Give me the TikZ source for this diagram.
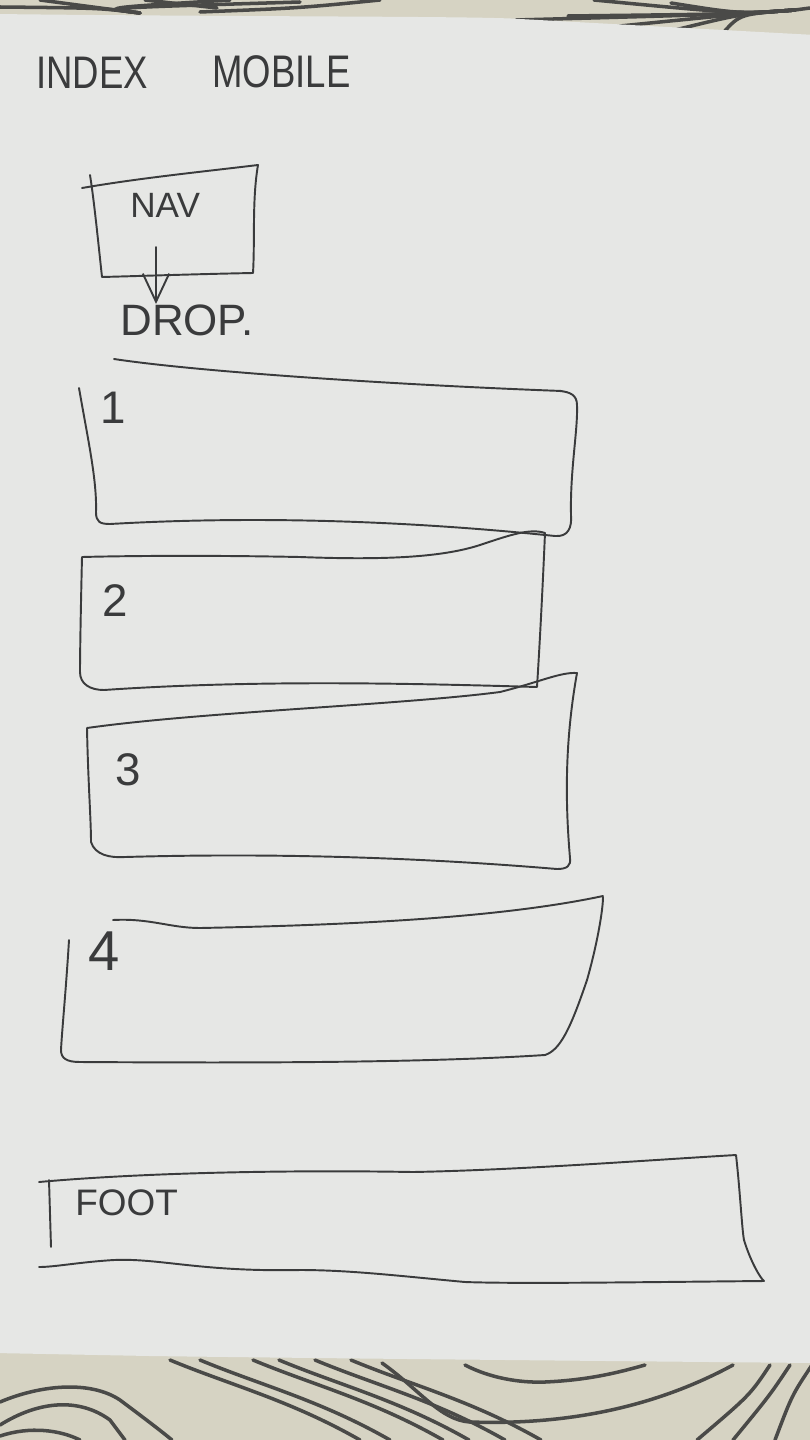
\documentclass[tikz,border=0pt]{standalone}
\usepackage{fontspec}
\setmainfont{Liberation Sans}
\newfontfamily\titlefont[FakeStretch=0.8]{Liberation Sans}
\usetikzlibrary{arrows.meta,positioning}
\definecolor{paper}{HTML}{E6E7E5}
\definecolor{cloth}{HTML}{D6D3C3}
\definecolor{weave}{HTML}{4A4A48}
\definecolor{ink}{HTML}{3A3B3C}
\tikzset{
  pen/.style={draw=ink,line width=1.1pt,line cap=round,line join=round},
  thread/.style={draw=weave,line width=2pt,line cap=round},
  scrawl/.style={text=ink,inner sep=0pt,anchor=base west},
  digit/.style={scrawl,font=\fontsize{26}{26}\selectfont}
}
\begin{document}
\begin{tikzpicture}[x=0.02cm,y=-0.02cm]
\useasboundingbox (0,0) rectangle (810,1440);
\fill[cloth] (0,0) rectangle (810,1440);

\begin{scope}
  \clip (0,0) rectangle (810,40);
  \foreach \a/\b in {0/7,40/0,230/0,300/2} {
    \draw[thread] (\a,\b) .. controls (100,8) .. (140,13);
  }
  \draw[thread] (145,0) .. controls (180,4) .. (217,8);
  \draw[thread] (200,12) .. controls (300,8) .. (380,0);
  \foreach \a/\b in {516/20,568/16,620/26,671/31,723/33,594/0,671/3} {
    \draw[thread] (\a,\b) .. controls (740,14) .. (795,10);
  }
  \draw[thread] (795,10) -- (810,8);
\end{scope}

\begin{scope}
  \clip (0,1340) rectangle (810,1440);
  \draw[thread] (0,1402) .. controls (40,1385) and (90,1380) .. (120,1400) .. controls (140,1415) and (160,1430) .. (172,1440);
  \draw[thread] (0,1425) .. controls (40,1400) and (80,1398) .. (110,1420) -- (125,1440);
  \draw[thread] (0,1436) .. controls (30,1426) and (60,1430) .. (80,1440);
  \foreach \x in {170,200,253,279,315,351} {
    \draw[thread] (\x,1360) .. controls (\x+60,1385) and (\x+120,1400) .. (\x+190,1440);
  }
  \draw[thread] (382,1363) .. controls (420,1390) and (440,1420) .. (470,1422) .. controls (560,1425) and (650,1410) .. (733,1365);
  \draw[thread] (465,1365) .. controls (490,1378) and (520,1383) .. (545,1382) .. controls (590,1380) and (620,1372) .. (645,1365);
  \foreach \a/\b in {770/697,790/733,812/775} {
    \draw[thread] (\a,1365) .. controls (\a-20,1395) .. (\b,1440);
  }
\end{scope}

\fill[paper] (-5,14) .. controls (250,17) and (480,16) .. (520,19) -- (815,35) -- (815,1363) .. controls (500,1360) and (300,1358) .. (150,1356) -- (-5,1353) -- cycle;

\node[scrawl,font=\titlefont\fontsize{26}{26}\selectfont] (index) at (36,88) {INDEX};
\node[scrawl,font=\titlefont\fontsize{26}{26}\selectfont] (mobile) at (212,87) {MOBILE};

\draw[pen] (82,188) .. controls (140,178) and (200,172) .. (258,165) .. controls (252,200) and (255,240) .. (253,273) .. controls (200,274) and (140,276) .. (102,277) .. controls (98,240) and (94,200) .. (90,175);
\node[scrawl,font=\fontsize{20}{20}\selectfont] (nav) at (130,217) {NAV};
\coordinate (navtail) at (156,247);
\node[scrawl,font=\fontsize{25}{25}\selectfont] (drop) at (120,335) {DROP.};
\draw[pen,-{Straight Barb[length=16pt,width=15pt]}] (navtail) -- (navtail |- drop.north);

\draw[pen] (114,359) .. controls (200,372) and (400,385) .. (562,391);
\draw[pen] (79,388) .. controls (88,440) and (97,480) .. (96,512) .. controls (96,522) and (100,524) .. (110,524) .. controls (250,516) and (400,520) .. (555,536) .. controls (568,537) and (572,528) .. (571,515) .. controls (570,470) and (578,430) .. (577,405) .. controls (577,395) and (570,392) .. (560,391);
\node[digit] (one) at (100,423) {1};

\draw[pen] (82,557) .. controls (81,600) and (80,650) .. (80,672) .. controls (80,684) and (90,690) .. (104,690) .. controls (250,680) and (400,683) .. (537,687) .. controls (540,640) and (543,580) .. (545,533) .. controls (530,528) and (510,535) .. (480,545) .. controls (440,558) and (380,560) .. (300,557) .. controls (200,555) and (120,556) .. (82,557);
\node[digit] (two) at (102,616) {2};

\draw[pen] (87,728) .. controls (88,780) and (91,820) .. (91,842) .. controls (95,855) and (110,858) .. (125,857) .. controls (300,852) and (450,860) .. (557,869) .. controls (567,869) and (571,866) .. (570,858) .. controls (565,800) and (565,740) .. (577,673) .. controls (560,672) and (540,682) .. (500,692) .. controls (400,705) and (200,712) .. (87,728);
\node[digit] (three) at (115,785) {3};

\draw[pen] (113,920) .. controls (150,918) and (170,928) .. (200,928) .. controls (350,925) and (500,918) .. (603,896);
\draw[pen] (69,940) .. controls (66,990) and (62,1030) .. (61,1050) .. controls (61,1058) and (66,1062) .. (80,1062) .. controls (250,1063) and (420,1063) .. (545,1055) .. controls (560,1050) and (570,1030) .. (587,980) .. controls (597,945) and (603,910) .. (603,897);
\node[digit,font=\fontsize{32}{32}\selectfont] (four) at (88,970) {4};

\draw[pen] (39,1182) .. controls (150,1172) and (300,1170) .. (413,1172) .. controls (520,1170) and (650,1160) .. (736,1155) .. controls (740,1190) and (742,1230) .. (744,1240) .. controls (750,1260) and (760,1278) .. (764,1281) .. controls (650,1282) and (520,1284) .. (465,1282) .. controls (400,1276) and (350,1270) .. (300,1270) .. controls (200,1272) and (160,1258) .. (114,1260) .. controls (80,1262) and (55,1267) .. (39,1267);
\draw[pen] (49,1180) -- (51,1247);
\node[scrawl,font=\fontsize{21}{21}\selectfont] (foot) at (75,1215) {FOOT};
\end{tikzpicture}
\end{document}
